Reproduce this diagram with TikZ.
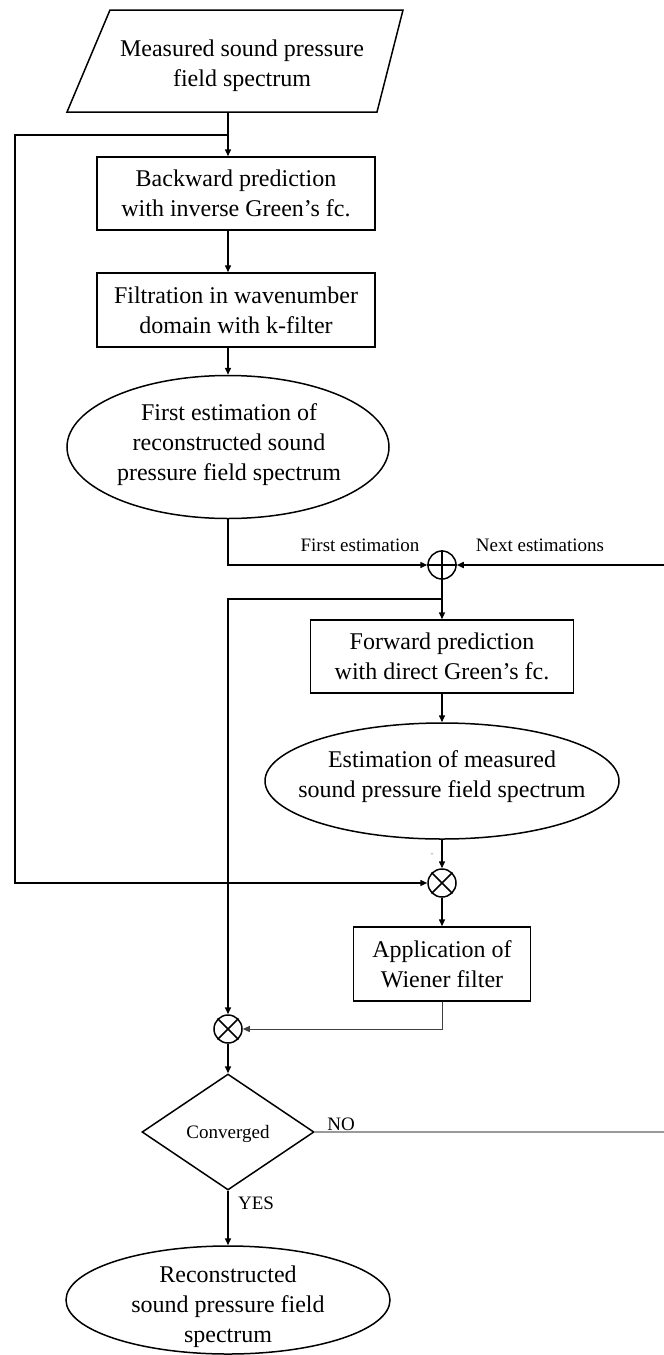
\documentclass[tikz,border=0pt]{standalone}
\usepackage{fontspec}
\setmainfont{Liberation Serif}
\usetikzlibrary{shapes.geometric,arrows.meta}
\begin{document}
\begin{tikzpicture}[x=1pt,y=-1pt,
  ln/.style={line width=1.5pt},
  arr/.style={ln,-{Triangle[length=7pt,width=6pt]}},
  thinarr/.style={line width=1pt,black!75,-{Triangle[length=7pt,width=6pt]}},
  noline/.style={line width=1.2pt,black!40},
  boxn/.style={draw,line width=1.5pt,rectangle,inner sep=0pt,align=center,font=\fontsize{24}{30}\selectfont},
  txt/.style={align=center,font=\fontsize{24}{30}\selectfont,inner sep=0pt},
  lbl/.style={font=\fontsize{19}{23}\selectfont,inner sep=0pt},
  ell/.style={draw,ellipse,line width=1.5pt,inner sep=0pt},
  op/.style={draw,circle,line width=1.5pt,minimum size=28pt,inner sep=0pt},
]
\useasboundingbox (0,0) rectangle (664,1355);
% input parallelogram
\draw[ln] (110,10) -- (403,10) -- (377,112) -- (67,112) -- cycle;
\node[txt] (meas) at (242,66) {Measured sound pressure\\field spectrum};
\coordinate (mb) at (228,112);
\coordinate (split) at (228,135);
\coordinate (lft) at (15,135);
\coordinate (lb) at (15,883);

\node[boxn,minimum width=278pt,minimum height=73pt] (b1) at (236,193.5) {Backward prediction\\with inverse Green's fc.};
\node[boxn,minimum width=278pt,minimum height=74pt] (b2) at (236,310) {Filtration in wavenumber\\domain with k-filter};
\node[ell,minimum width=322pt,minimum height=143pt] (e1) at (228,447) {};
\node[txt] (e1t) at (229,445) {First estimation of\\reconstructed sound\\pressure field spectrum};
\node[op] (sum) at (442,565) {};
\draw[ln] (sum.north) -- (sum.south) (sum.west) -- (sum.east);
\node[boxn,minimum width=263pt,minimum height=73pt] (b3) at (442,656.5) {Forward prediction\\with direct Green's fc.};
\node[ell,minimum width=354pt,minimum height=116pt] (e2) at (442,781) {};
\node[txt] (e2t) at (442,777) {Estimation of measured\\sound pressure field spectrum};
\node[op] (m1) at (442,883) {};
\draw[ln] (m1.north west) -- (m1.south east) (m1.north east) -- (m1.south west);
\node[boxn,minimum width=177pt,minimum height=74pt] (b4) at (442,964) {Application of\\Wiener filter};
\node[op] (m2) at (228,1029) {};
\draw[ln] (m2.north west) -- (m2.south east) (m2.north east) -- (m2.south west);
\node[draw,diamond,line width=1.5pt,minimum width=172pt,minimum height=116pt,inner sep=0pt] (dia) at (228,1132) {};
\node[lbl] (dt) at (228,1134) {Converged};
\node[ell,minimum width=324pt,minimum height=108pt] (e3) at (228,1300) {};
\node[txt] (e3t) at (228,1307) {Reconstructed\\sound pressure field\\spectrum};

\coordinate (rin) at (664,565);
\coordinate (br) at (442,599);
\coordinate (bl) at (228,599);
\coordinate (nor) at (664,1132);

% connectors
\draw[arr] (mb) -- (mb |- b1.north);
\draw[arr] (split) -- (lft) -- (lb) -- (m1.west);
\draw[arr] (mb |- b1.south) -- (mb |- b2.north);
\draw[arr] (mb |- b2.south) -- (e1.north);
\draw[arr] (e1.south) -- (e1.south |- sum) -- (sum.west);
\draw[arr] (rin) -- (sum.east);
\draw[arr] (sum.south) -- (b3.north);
\draw[arr] (br) -- (bl) -- (m2.north);
\draw[arr] (b3.south) -- (e2.north);
\draw[arr] (e2.south) -- (m1.north);
\draw[arr] (m1.south) -- (b4.north);
\draw[thinarr] (b4.south) -- (b4.south |- m2) -- (m2.east);
\draw[arr] (m2.south) -- (dia.north);
\draw[noline] (dia.east) -- (nor);
\draw[arr] (dia.south) -- (e3.north);

% labels
\node[lbl] (l1) at (360,545) {First estimation};
\node[lbl] (l2) at (540,545) {Next estimations};
\node[lbl] (lno) at (341,1124) {NO};
\node[lbl] (lyes) at (256,1203) {YES};
\node[font=\fontsize{9}{9}\selectfont,text=black!50,inner sep=0pt] (minus) at (432,855) {-};
\end{tikzpicture}
\end{document}
